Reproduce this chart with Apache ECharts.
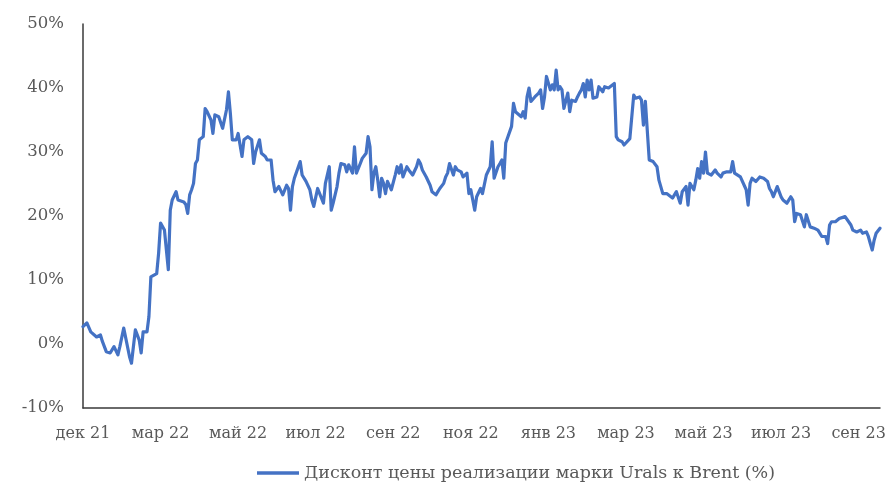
<!DOCTYPE html>
<html>
<head>
<meta charset="utf-8">
<script src="https://cdn.jsdelivr.net/npm/echarts@6/dist/echarts.min.js"></script>
<style>
html,body{margin:0;padding:0;background:#fff;}
#chart{width:894px;height:486px;}
</style>
</head>
<body>
<div id="chart"></div>
<script>
// x-axis tick labels (one every 40 trading days)
const tickLabels = ['дек 21','мар 22','май 22','июл 22','сен 22','ноя 22','янв 23','мар 23','май 23','июл 23','сен 23'];
const seriesName = 'Дисконт цены реализации марки Urals к Brent (%)';
// trading-day index of each reading
const dayIndex = [0,2,4,7,9,10,12,14,16,18,19,21,24,25,26,27,29,30,31,33,34,35,38,39,40,42,44,45,46,48,49,52,53,54,55,56,57,58,59,60,62,63,64,66,67,68,70,72,74,75,76,77,79,80,82,83,85,87,88,89,91,92,94,95,97,98,99,101,102,103,105,106,107,108,109,110,112,113,115,117,118,119,121,122,124,125,127,128,129,131,132,133,135,136,137,139,140,141,143,144,146,147,148,149,150,151,152,153,154,155,156,157,158,159,161,162,163,164,165,167,168,170,172,173,174,175,177,178,179,180,182,183,184,186,187,188,189,191,192,193,195,196,198,199,200,201,202,203,205,206,207,208,209,210,211,212,214,215,216,217,218,219,221,222,223,224,226,227,228,229,230,231,233,235,236,237,238,239,241,242,243,244,245,246,247,248,250,251,252,254,255,256,257,258,259,260,261,262,263,265,266,268,269,271,272,274,275,276,278,279,280,282,283,284,285,287,288,289,290,291,292,294,296,297,298,299,301,302,304,305,306,308,309,310,311,312,313,315,316,317,318,319,320,321,322,324,326,327,329,330,332,334,335,336,337,339,340,342,343,344,345,347,349,350,351,353,354,355,356,357,358,360,361,362,363,365,366,367,368,370,371,372,373,374,375,377,378,379,381,382,383,384,385,386,388,390,391,393,394,396,397,398,399,401,402,404,405,406,407,408,409,411];
// discount, %
const discount = [2.7,3.3,1.9,1.1,1.4,0.4,-1.2,-1.4,-0.4,-1.7,-0.4,2.5,-2.0,-3.0,-3.0,2.2,0.6,-1.4,1.9,1.9,4.3,10.5,11.0,14.2,18.9,17.8,11.6,20.9,22.5,23.8,22.5,22.2,21.8,20.4,23.3,24.1,25.1,28.2,28.75,31.9,32.4,36.8,36.3,35.0,32.9,35.8,35.5,33.7,36.6,39.4,36.0,31.9,31.9,32.9,29.3,31.9,32.4,31.9,28.2,30.0,31.9,29.8,29.3,28.75,28.75,25.6,23.8,24.6,24.3,23.3,24.8,24.3,20.9,24.6,25.9,26.1,28.5,26.4,25.4,24.1,22.5,21.5,24.3,24.1,22.0,25.1,27.7,20.9,22.0,24.6,26.7,28.2,28.0,26.9,28.0,26.7,30.8,26.7,28.2,29.0,29.8,32.4,30.8,24.1,26.7,27.7,25.6,23.0,25.9,25.1,23.5,25.4,25.1,24.1,26.4,27.7,26.7,28.0,26.1,27.7,27.2,26.4,27.7,28.75,28.2,27.2,26.1,25.9,24.8,23.8,23.3,23.8,24.3,25.1,26.1,26.7,28.2,26.4,27.7,27.2,26.9,26.1,26.7,23.5,24.1,22.5,20.9,23.0,24.3,23.5,23.3,26.4,26.1,27.7,31.6,25.9,27.7,28.2,28.75,25.9,31.4,31.6,34.0,37.6,36.3,36.0,35.5,36.3,35.3,38.6,40.0,37.9,38.6,39.2,39.7,36.8,38.6,41.8,39.7,40.5,39.7,42.8,39.7,40.2,39.7,36.8,39.2,36.3,38.1,37.9,38.6,39.2,39.7,40.7,38.6,41.25,39.7,41.25,38.4,38.6,40.2,39.4,40.2,40.0,40.2,40.7,32.4,31.9,31.6,31.1,31.4,32.1,31.9,38.9,38.4,38.6,38.1,34.2,37.9,37.6,28.75,28.5,27.7,25.6,25.4,23.5,23.5,23.3,22.8,23.3,23.8,22.0,23.8,24.1,24.6,21.7,25.1,24.1,25.6,27.4,25.9,28.5,26.7,30.0,26.7,26.4,27.2,26.7,26.1,26.7,26.9,26.9,28.5,26.7,26.4,26.1,25.9,24.1,21.7,25.1,25.9,25.4,26.1,26.4,25.9,25.4,24.3,23.8,23.0,23.0,24.6,23.0,22.5,22.2,22.0,23.0,22.5,19.1,20.4,20.2,20.4,18.3,20.2,19.9,18.3,18.1,17.8,17.8,16.8,17.0,16.8,15.7,18.6,19.1,19.1,19.6,19.4,19.9,19.6,18.6,17.8,18.1,17.5,17.8,17.3,17.5,16.8,15.7,14.7,16.25,17.3,18.1];

const chart = echarts.init(document.getElementById('chart'), null, {renderer: 'canvas'});
const FONT = 'DejaVu Serif';
const TXT = '#595959';
chart.setOption({
  animation: false,
  backgroundColor: '#ffffff',
  grid: {left: 83, right: 14, top: 24, bottom: 78, containLabel: false},
  legend: {
    data: [seriesName],
    left: 252, top: 459,
    icon: 'rect', itemWidth: 42, itemHeight: 3.5, itemGap: 10,
    textStyle: {fontFamily: FONT, fontSize: 17.5, color: TXT}
  },
  xAxis: {
    type: 'value', min: 0, max: dayIndex[dayIndex.length - 1], interval: 40,
    axisLine: {show: true, onZero: false, lineStyle: {color: '#3a3a3a', width: 1.5}},
    axisTick: {show: false},
    splitLine: {show: false},
    axisLabel: {
      margin: 18, fontFamily: FONT, fontSize: 16, color: TXT,
      formatter: function (v) { return v % 40 === 0 ? (tickLabels[v / 40] || '') : ''; }
    }
  },
  yAxis: {
    type: 'value', min: -10, max: 50, interval: 10,
    axisLine: {show: true, lineStyle: {color: '#3a3a3a', width: 1.5}},
    axisTick: {show: false},
    splitLine: {show: false},
    axisLabel: {margin: 19, fontFamily: FONT, fontSize: 16.5, color: TXT, formatter: '{value}%'}
  },
  series: [{
    name: seriesName,
    type: 'line',
    data: dayIndex.map(function (d, i) { return [d, discount[i]]; }),
    showSymbol: false,
    symbol: 'none',
    color: '#4472C4',
    lineStyle: {width: 3.2, color: '#4472C4', join: 'round', cap: 'round'}
  }]
});
</script>
</body>
</html>
